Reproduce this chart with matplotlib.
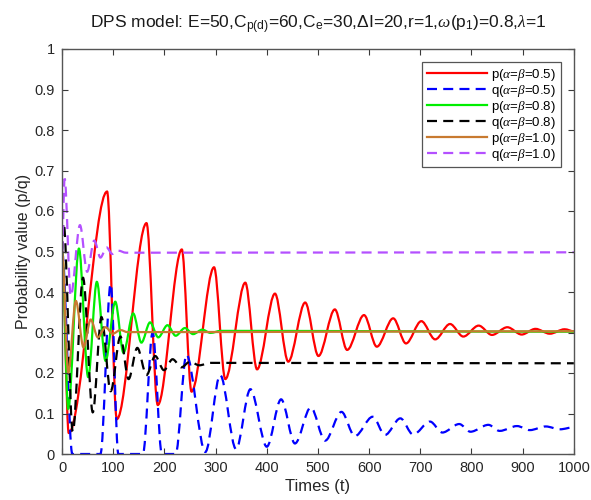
import matplotlib
matplotlib.use("Agg")
import matplotlib.pyplot as plt
from matplotlib.path import Path
from matplotlib.patches import PathPatch
from matplotlib.lines import Line2D
from matplotlib.ticker import FuncFormatter

plt.rcParams['font.family'] = ['Liberation Sans', 'DejaVu Sans']
plt.rcParams['mathtext.fontset'] = 'custom'
plt.rcParams['mathtext.rm'] = 'Liberation Sans'
plt.rcParams['mathtext.it'] = 'Liberation Serif:italic'
plt.rcParams['mathtext.bf'] = 'Liberation Sans:bold'

# ---- data: turning points (time, value) ----
red_t = [0, 13, 88, 107, 165, 187, 234, 253, 297, 319, 358, 381, 416, 442, 475, 501,
         533, 557, 590, 615, 647, 672, 702, 729, 758, 784, 814, 840, 870, 898, 925, 953, 982, 1000]
red_v = [0.50, 0.052, 0.648, 0.086, 0.570, 0.121, 0.505, 0.154, 0.461, 0.185, 0.423, 0.209,
         0.396, 0.228, 0.374, 0.242, 0.357, 0.257, 0.343, 0.265, 0.335, 0.273, 0.328, 0.283,
         0.321, 0.290, 0.317, 0.294, 0.313, 0.295, 0.309, 0.297, 0.308, 0.303]

blue_t = [0, 20, 75, 95, 110, 158, 177, 195, 222, 243, 280, 309, 340, 368, 400, 428, 455,
          486, 514, 546, 572, 607, 631, 661, 686, 719, 743, 776, 798, 833, 855, 889, 914, 945, 973, 1000]
blue_v = [0.50, 0.0, 0.0, 0.42, 0.0, 0.0, 0.30, 0.0, 0.0, 0.245, 0.005, 0.195, 0.012, 0.160,
          0.018, 0.135, 0.026, 0.115, 0.033, 0.104, 0.044, 0.092, 0.047, 0.088, 0.048, 0.080,
          0.053, 0.074, 0.055, 0.072, 0.057, 0.069, 0.059, 0.068, 0.061, 0.066]

green_t = [0, 12, 33, 51, 68, 85, 104, 120, 139, 155, 172, 188, 206, 222, 240, 256, 274, 290, 310, 1000]
green_v = [0.50, 0.112, 0.507, 0.19, 0.425, 0.23, 0.376, 0.25, 0.347, 0.275, 0.325, 0.288,
           0.318, 0.292, 0.311, 0.296, 0.307, 0.299, 0.304, 0.302]

black_t = [0, 3, 21, 41, 60, 77, 95, 114, 130, 147, 165, 182, 199, 216, 233, 250, 268, 290, 1000]
black_v = [0.50, 0.57, 0.055, 0.435, 0.103, 0.338, 0.155, 0.29, 0.185, 0.262, 0.195, 0.242,
           0.207, 0.234, 0.214, 0.228, 0.219, 0.225, 0.224]

brown_t = [0, 12, 27, 42, 56, 70, 85, 99, 114, 128, 1000]
brown_v = [0.50, 0.20, 0.378, 0.263, 0.332, 0.288, 0.313, 0.297, 0.306, 0.301, 0.303]

purple_t = [0, 5, 17, 35, 49, 63, 75, 87, 98, 110, 125, 1000]
purple_v = [0.50, 0.68, 0.39, 0.565, 0.45, 0.527, 0.485, 0.51, 0.494, 0.502, 0.497, 0.498]

labels = [r'p($\alpha$=$\beta$=0.5)', r'q($\alpha$=$\beta$=0.5)',
          r'p($\alpha$=$\beta$=0.8)', r'q($\alpha$=$\beta$=0.8)',
          r'p($\alpha$=$\beta$=1.0)', r'q($\alpha$=$\beta$=1.0)']

x_ticks = list(range(0, 1001, 100))
y_ticks = [0, 0.1, 0.2, 0.3, 0.4, 0.5, 0.6, 0.7, 0.8, 0.9, 1]

series = [
    (red_t, red_v, '#ff0000', '-'),
    (blue_t, blue_v, '#0000ff', '--'),
    (green_t, green_v, '#00ee00', '-'),
    (black_t, black_v, '#000000', '--'),
    (brown_t, brown_v, '#c87a30', '-'),
    (purple_t, purple_v, '#b450ff', '--'),
]

fig = plt.figure(figsize=(5.91, 5.00), dpi=100)
ax = fig.add_axes([0.105, 0.092, 0.866, 0.81])


def smooth_path(ts, vs):
    verts = [(ts[0], vs[0])]
    codes = [Path.MOVETO]
    for i in range(len(ts) - 1):
        d = ts[i + 1] - ts[i]
        verts += [(ts[i] + d / 3.0, vs[i]), (ts[i + 1] - d / 3.0, vs[i + 1]), (ts[i + 1], vs[i + 1])]
        codes += [Path.CURVE4, Path.CURVE4, Path.CURVE4]
    return Path(verts, codes)


handles = []
for (ts, vs, col, ls), lab in zip(series, labels):
    patch = PathPatch(smooth_path(ts, vs), facecolor='none', edgecolor=col, lw=1.6,
                      linestyle=ls, transform=ax.transData)
    if ls == '--':
        patch.set_linestyle((0, (4.5, 2.8)))
    ax.add_patch(patch)
    h = Line2D([], [], color=col, lw=1.6, linestyle=ls)
    if ls == '--':
        h.set_dashes((4.5, 2.8))
    handles.append(h)

ax.set_xlim(0, 1000)
ax.set_ylim(0, 1)
ax.set_xticks(x_ticks)
ax.set_yticks(y_ticks)
ax.yaxis.set_major_formatter(FuncFormatter(lambda v, p: f'{v:g}'))
ax.tick_params(direction='in', top=True, right=True, length=4, width=0.8,
               colors='#3a3a3a', labelsize=10.5, labelcolor='#262626', pad=5)
for s in ax.spines.values():
    s.set_color('#555555')
    s.set_linewidth(1.0)

ax.set_title(r'DPS model: E=50,C$_{\mathrm{p(d)}}$=60,C$_{\mathrm{e}}$=30,$\mathrm{\Delta}$I=20,r=1,$\omega$(p$_{\mathrm{1}}$)=0.8,$\lambda$=1',
             fontsize=12.5, color='#1a1a1a', pad=15)
ax.set_xlabel('Times (t)', fontsize=12, color='#262626', labelpad=3)
ax.set_ylabel('Probability value (p/q)', fontsize=11.5, color='#262626', labelpad=3)

leg = ax.legend(handles=handles, labels=labels, loc='upper right', fontsize=9.5,
                handlelength=4.6, handletextpad=0.3, labelspacing=0.0,
                borderaxespad=1.0, borderpad=0.35, fancybox=False, framealpha=1,
                edgecolor='#555555')
leg.get_frame().set_linewidth(0.9)

fig.savefig('out.png', dpi=100)
